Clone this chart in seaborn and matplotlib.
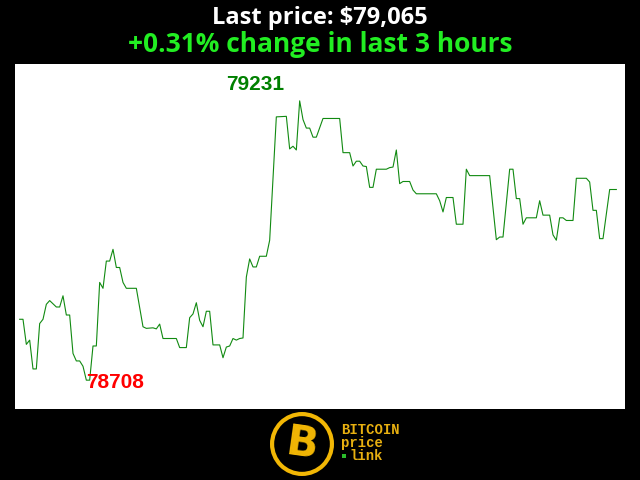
import pandas as pd
import numpy as np
import seaborn as sns
import matplotlib.pyplot as plt
from matplotlib.patches import Circle, Rectangle

# --- data (minute index within the 3 hour window, price in USD) ---
minutes = [0, 1, 2, 3, 4, 5, 6, 7, 8, 9, 11, 12, 13, 14, 15, 16, 17, 18, 19, 20,
           21, 22, 23, 24, 25, 26, 27, 28, 29, 30, 31, 32, 35, 37, 38, 40, 41, 42, 43, 47,
           48, 50, 51, 52, 53, 54, 55, 56, 57, 58, 60, 61, 62, 63, 64, 65, 66, 67, 68, 69,
           70, 71, 72, 74, 75, 76, 77, 80, 81, 82, 83, 84, 85, 86, 87, 88, 89, 91, 96, 97,
           99, 100, 101, 102, 103, 104, 105, 106, 107, 110, 111, 112, 113, 114, 115, 117, 118, 119, 125, 126,
           127, 128, 130, 131, 133, 134, 135, 141, 143, 144, 145, 147, 148, 149, 150, 151, 152, 155, 156, 157,
           159, 160, 161, 162, 163, 164, 166, 167, 170, 171, 172, 173, 174, 175, 177, 179]
prices = [78822, 78822, 78775, 78783, 78729, 78729, 78814, 78822, 78850, 78857, 78845, 78845, 78866, 78830, 78830, 78758, 78744, 78744, 78734, 78708,
          78708, 78772, 78772, 78891, 78880, 78931, 78931, 78953, 78919, 78919, 78891, 78880, 78880, 78808, 78805, 78806, 78804, 78813, 78786, 78786,
          78769, 78769, 78825, 78832, 78853, 78820, 78808, 78837, 78837, 78774, 78774, 78750, 78770, 78772, 78786, 78783, 78786, 78787, 78901, 78935,
          78920, 78920, 78940, 78940, 78970, 79086, 79201, 79202, 79141, 79146, 79139, 79231, 79196, 79180, 79180, 79163, 79163, 79198, 79198, 79134,
          79134, 79109, 79118, 79118, 79109, 79108, 79069, 79069, 79103, 79103, 79106, 79107, 79139, 79076, 79080, 79080, 79064, 79057, 79057, 79044,
          79023, 79050, 79050, 79000, 79000, 79103, 79091, 79091, 78971, 78976, 78976, 79103, 79103, 79048, 79048, 79000, 79012, 79012, 79044, 79017,
          79017, 78980, 78970, 79012, 79012, 79007, 79007, 79086, 79086, 79079, 79026, 79026, 78973, 78973, 79065, 79065]

last_price = 79065
change_pct = 0.31
hours = 3
logo_words = ['BITCOIN', 'price', 'link']

df = pd.DataFrame({'minute': minutes, 'price': prices})

fig = plt.figure(figsize=(6.4, 4.8), dpi=100, facecolor='black')
ax = fig.add_axes([15 / 640, 71 / 480, 610 / 640, 345 / 480])
ax.set_facecolor('white')

sns.lineplot(data=df, x='minute', y='price', ax=ax, color='#118a11', linewidth=0.8)

ax.set_xlim(-1.4, 181.6)
ax.set_ylim(78654, 79300)
ax.set_xticks([])
ax.set_yticks([])
ax.set_xlabel('')
ax.set_ylabel('')
for s in ax.spines.values():
    s.set_visible(False)

# high / low labels
hi = df.loc[df['price'].idxmax()]
lo = df.loc[df['price'].idxmin()]
ax.annotate(f"{int(hi['price'])}", xy=(hi['minute'], hi['price']), xytext=(-32, 12),
            textcoords='offset points', ha='center', va='center',
            color='#008000', fontsize=15, fontweight='bold', family='Liberation Sans')
ax.annotate(f"{int(lo['price'])}", xy=(lo['minute'], lo['price']), xytext=(21, -2),
            textcoords='offset points', ha='center', va='center',
            color='#ff0000', fontsize=15, fontweight='bold', family='Liberation Sans')

# titles
fig.text(0.5, 1 - 18 / 480, f"Last price: ${last_price:,}", color='white', ha='center', va='center',
         fontsize=17, fontweight='bold', family='Open Sans')
fig.text(0.5, 1 - 44 / 480, f"+{change_pct:.2f}% change in last {hours} hours", color='#22ee22',
         ha='center', va='center', fontsize=19, fontweight='bold', family='Open Sans')

# logo at the bottom
lax = fig.add_axes([268 / 640, 2 / 480, 68 / 640, 68 / 480])
lax.set_xlim(-1, 1)
lax.set_ylim(-1, 1)
lax.set_aspect('equal')
lax.axis('off')
lax.add_patch(Circle((0, 0), 0.88, facecolor='none', edgecolor='#f2b705', linewidth=3))
lax.text(0, -0.02, 'B', color='#f2b705', ha='center', va='center', fontsize=30, fontweight='bold',
         family='DejaVu Sans', rotation=-8)
fig.text(341 / 640, 1 - 430 / 480, logo_words[0], color='#e8b010', ha='left', va='center',
         fontsize=10, fontweight='bold', family='Liberation Mono')
fig.text(341 / 640, 1 - 443 / 480, logo_words[1], color='#e8b010', ha='left', va='center',
         fontsize=10, fontweight='bold', family='Liberation Mono')
fig.text(349 / 640, 1 - 456 / 480, logo_words[2], color='#e8b010', ha='left', va='center',
         fontsize=10, fontweight='bold', family='Liberation Mono')
fig.add_artist(Rectangle((342 / 640, 1 - 458 / 480), 4 / 640, 4 / 480, transform=fig.transFigure,
                         facecolor='#2bbd2b', edgecolor='none'))

fig.savefig('out.png', dpi=100, facecolor='black')
